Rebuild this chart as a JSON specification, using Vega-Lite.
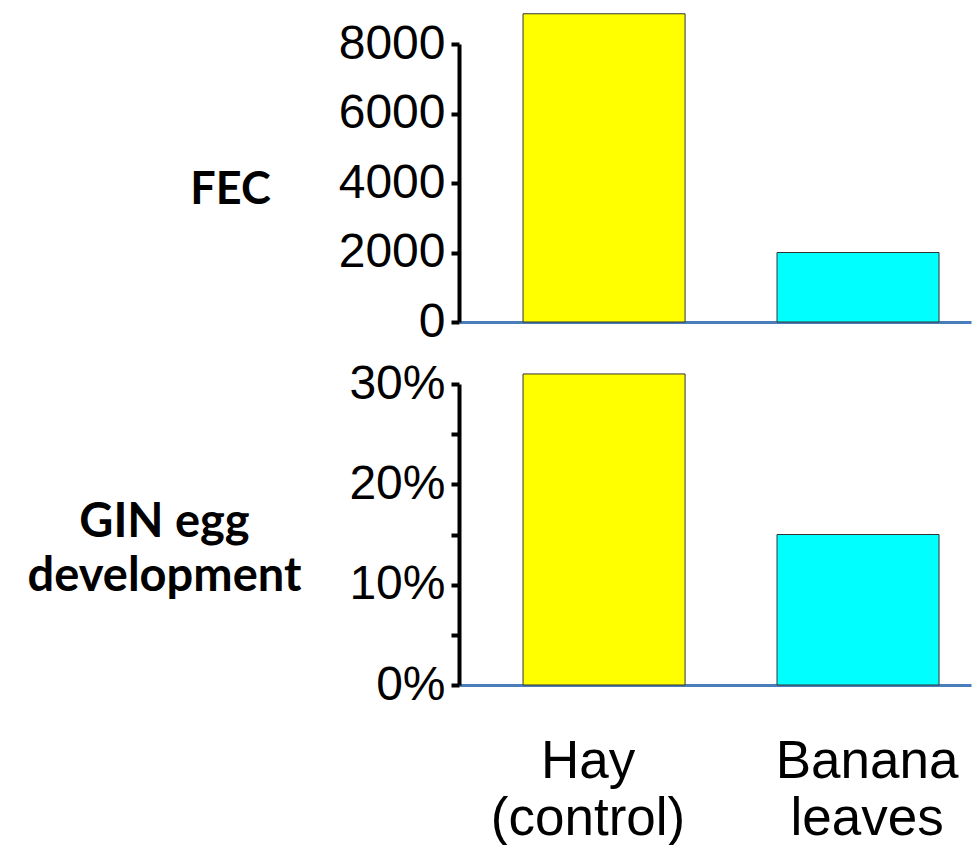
{
  "$schema": "https://vega.github.io/schema/vega-lite/v6.json",
  "background": "white",
  "padding": {"left": 27, "top": 13, "right": 2, "bottom": 0},
  "bounds": "flush",
  "data": {"values": [
    {"diet": "Hay (control)", "fec": 8870, "gin": 0.31},
    {"diet": "Banana leaves", "fec": 2000, "gin": 0.15}
  ]},
  "spacing": 62,
  "config": {"view": {"stroke": null}},
  "vconcat": [
    {
      "width": 512,
      "height": 278,
      "mark": {"type": "bar", "stroke": "#333333", "strokeWidth": 1},
      "encoding": {
        "x": {"field": "diet", "type": "nominal", "sort": ["Hay (control)", "Banana leaves"],
          "scale": {"paddingInner": 0.362, "paddingOuter": 0.189, "align": 0.667},
          "axis": {"title": null, "labels": false, "ticks": false, "domainColor": "#4a7ebb", "domainWidth": 3}},
        "y": {"field": "fec", "type": "quantitative",
          "scale": {"domain": [0, 8000], "nice": false},
          "axis": {"values": [0, 2000, 4000, 6000, 8000], "format": "d", "grid": false,
            "labelFont": "Liberation Sans", "labelFontSize": 48, "labelColor": "black", "labelPadding": 6,
            "tickSize": 8, "tickWidth": 4, "tickColor": "black", "domainColor": "black", "domainWidth": 4,
            "title": "FEC", "titleAngle": 0, "titleFont": "Lato", "titleFontWeight": "bold", "titleFontSize": 45,
            "titleColor": "black", "titleAlign": "center", "titleBaseline": "middle", "titleX": -229, "titleY": 145}},
        "color": {"field": "diet", "type": "nominal", "legend": null,
          "scale": {"domain": ["Hay (control)", "Banana leaves"], "range": ["#ffff00", "#00ffff"]}}
      }
    },
    {
      "width": 512,
      "height": 301,
      "mark": {"type": "bar", "stroke": "#333333", "strokeWidth": 1},
      "encoding": {
        "x": {"field": "diet", "type": "nominal", "sort": ["Hay (control)", "Banana leaves"],
          "scale": {"paddingInner": 0.362, "paddingOuter": 0.189, "align": 0.667},
          "axis": {"title": null, "ticks": false, "domainColor": "#4a7ebb", "domainWidth": 3,
            "labelAngle": 0, "labelFont": "Liberation Sans", "labelFontSize": 53, "labelColor": "black",
            "labelBaseline": "top", "labelPadding": 50, "labelLineHeight": 57, "labelLimit": 0,
            "labelOffset": {"condition": {"test": "datum.value == 'Hay (control)'", "value": -16}, "value": 9},
            "labelExpr": "datum.value == 'Hay (control)' ? ['Hay', '(control)'] : ['Banana', 'leaves']"}},
        "y": {"field": "gin", "type": "quantitative",
          "scale": {"domain": [0, 0.3], "nice": false},
          "axis": {"values": [0, 0.05, 0.1, 0.15, 0.2, 0.25, 0.3], "grid": false,
            "labelExpr": "round(datum.value * 100) % 10 == 0 ? round(datum.value * 100) + '%' : ''",
            "labelFont": "Liberation Sans", "labelFontSize": 48, "labelColor": "black", "labelPadding": 6,
            "tickSize": 8, "tickWidth": 4, "tickColor": "black", "domainColor": "black", "domainWidth": 4,
            "title": ["GIN egg", "development"], "titleAngle": 0, "titleFont": "Lato", "titleFontWeight": "bold", "titleFontSize": 47,
            "titleLineHeight": 54,
            "titleColor": "black", "titleAlign": "center", "titleBaseline": "middle", "titleX": -295, "titleY": 138}},
        "color": {"field": "diet", "type": "nominal", "legend": null,
          "scale": {"domain": ["Hay (control)", "Banana leaves"], "range": ["#ffff00", "#00ffff"]}}
      }
    }
  ]
}
